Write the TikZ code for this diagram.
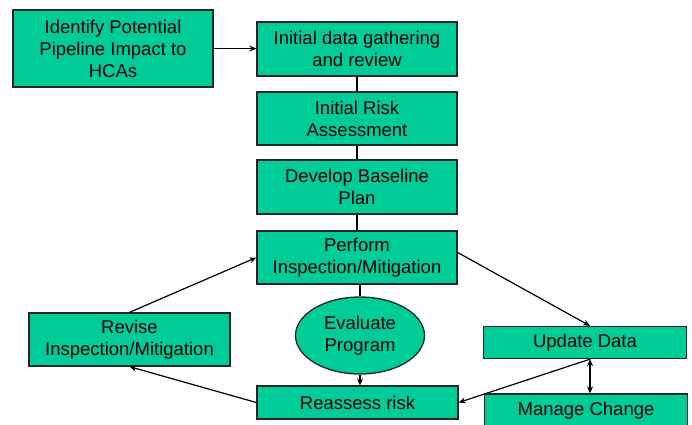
\documentclass[tikz,border=0pt]{standalone}
\usepackage{fontspec}
\setmainfont{Liberation Sans}
\usetikzlibrary{arrows.meta,shapes.geometric}
\definecolor{boxgreen}{RGB}{0,204,153}

\begin{document}
\begin{tikzpicture}[x=1pt,y=-1pt,
  box/.style={draw=black!85,line width=1.3pt,fill=boxgreen,rectangle,inner sep=0pt,
    align=center,font=\fontsize{18.5}{22}\selectfont},
  oval/.style={box,ellipse},
  link/.style={line width=1.2pt},
  arr/.style={link,-{Stealth[length=7pt,width=6pt]}}]
\useasboundingbox (0,0) rectangle (692,424);
\node[box,minimum width=200pt,minimum height=77pt] (ident) at (113,48.5) {Identify Potential\\Pipeline Impact to\\HCAs};
\node[box,minimum width=200pt,minimum height=54pt] (gather) at (357,49) {Initial data gathering\\and review};
\node[box,minimum width=200pt,minimum height=53pt] (risk) at (357,118.5) {Initial Risk\\Assessment};
\node[box,minimum width=200pt,minimum height=54pt] (base) at (357,187) {Develop Baseline\\Plan};
\node[box,minimum width=200pt,minimum height=53pt] (perf) at (357,257.5) {Perform\\Inspection/Mitigation};
\node[oval,minimum width=129pt,minimum height=77pt] (eval) at (360,335.5) {Evaluate\\Program};
\node[box,minimum width=201pt,minimum height=53pt] (revise) at (129.5,339.5) {Revise\\Inspection/Mitigation};
\node[box,minimum width=201pt,minimum height=33pt] (reass) at (357.5,402.5) {Reassess risk};
\node[box,minimum width=203pt,minimum height=32pt] (upd) at (585,342.5) {Update Data};
\node[box,minimum width=203pt,minimum height=34pt] (manage) at (586,411) {Manage Change};
% main column
\draw[arr] (ident.east) -- (gather.west |- ident.east);
\draw[link] (gather) -- (risk);
\draw[link] (risk) -- (base);
\draw[link] (base) -- (perf);
\draw[link] (eval.north) -- (eval.north |- perf.south);
\draw[arr] (eval.south) -- (eval.south |- reass.north);
% loop
\draw[arr] (revise.north) -- (perf.west);
\draw[arr] ([yshift=5pt]perf.east) -- ([xshift=5pt]upd.north);
\draw[arr] ([xshift=5pt]upd.south) -- (reass.east);
\draw[arr] (reass.west) -- (revise.south);
\draw[link,{Stealth[length=7pt,width=6pt]}-{Stealth[length=7pt,width=6pt]}] ([xshift=5pt]upd.south) -- ([xshift=4pt]manage.north);
\end{tikzpicture}
\end{document}
